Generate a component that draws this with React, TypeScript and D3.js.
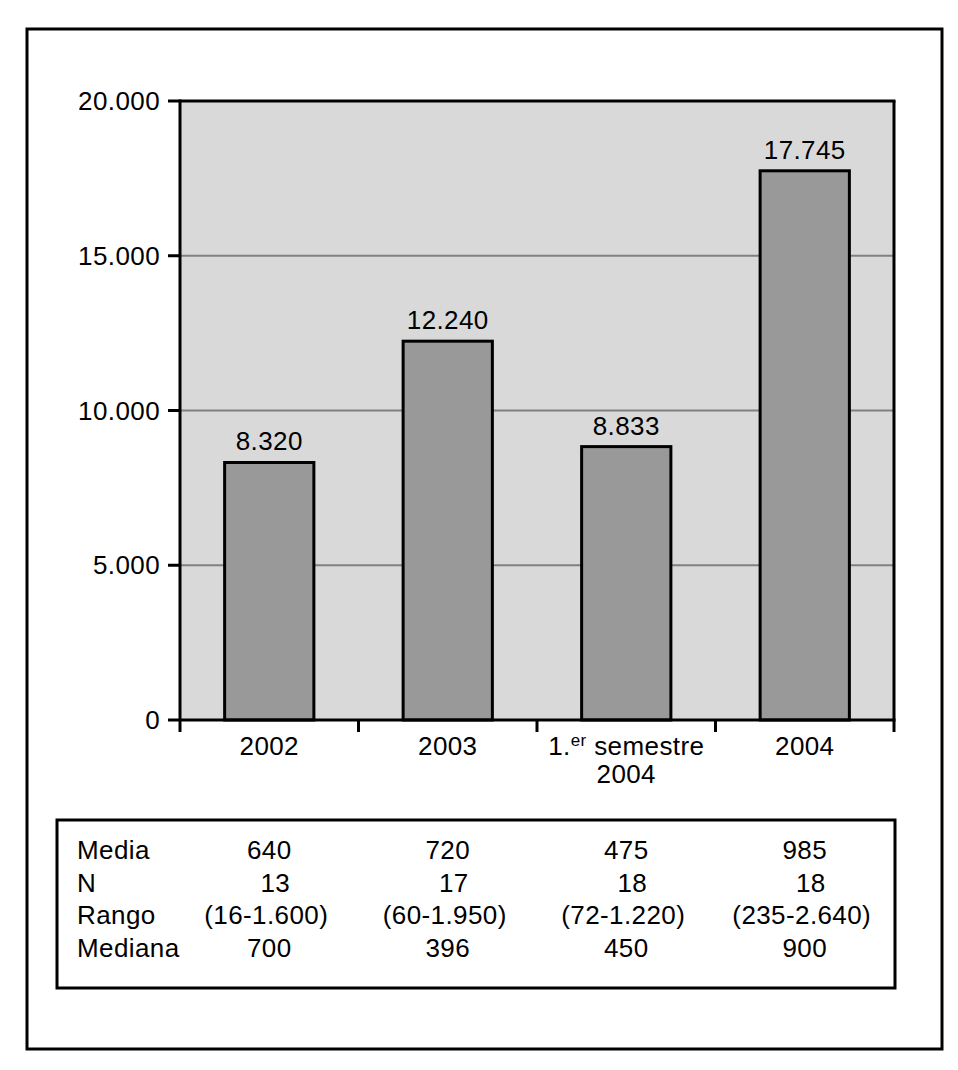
import React from "react";
import * as d3 from "d3";

const categories = ["2002", "2003", "1.er semestre 2004", "2004"];
const values = [8320, 12240, 8833, 17745];
const valueLabels = ["8.320", "12.240", "8.833", "17.745"];
const yTicks = [0, 5000, 10000, 15000, 20000];
const yTickLabels = ["0", "5.000", "10.000", "15.000", "20.000"];
const rowLabels = ["Media", "N", "Rango", "Mediana"];
const mediaRow = ["640", "720", "475", "985"];
const nRow = ["13", "17", "18", "18"];
const rangoRow = ["(16-1.600)", "(60-1.950)", "(72-1.220)", "(235-2.640)"];
const medianaRow = ["700", "396", "450", "900"];

const W = 958;
const H = 1070;
const FONT = "'Liberation Sans', Arial, Helvetica, sans-serif";

export default function App() {
  const left = 180, right = 894, top = 101, bottom = 720;
  const x = d3.scaleBand<string>().domain(categories).range([left, right]).paddingInner(0.5).paddingOuter(0.25);
  const xOuter = d3.scaleBand<string>().domain(categories).range([left, right]);
  const y = d3.scaleLinear().domain([0, 20000]).range([bottom, top]);
  const fs = 26;
  const ls = 0.4;
  const rows = [mediaRow, nRow, rangoRow, medianaRow];
  const rowY = d3.scaleLinear().domain([0, 3]).range([859, 957]);
  const rowDx = [0, 6, -3, 0];

  return (
    <svg width={W} height={H} style={{ position: "absolute", left: 0, top: 0, background: "#fff" }} fontFamily={FONT}>
      <rect x={27} y={29} width={915} height={1020} fill="none" stroke="#000" strokeWidth={3} />
      {/* plot background */}
      <rect x={left} y={top} width={right - left} height={bottom - top} fill="#d9d9d9" />
      {/* gridlines */}
      {yTicks.filter((t) => t > 0 && t < 20000).map((t) => (
        <line key={t} x1={left} x2={right} y1={y(t)} y2={y(t)} stroke="#808080" strokeWidth={2} />
      ))}
      {/* bars */}
      {categories.map((c, i) => (
        <rect key={c} x={x(c)!} y={y(values[i])} width={x.bandwidth()} height={bottom - y(values[i])}
          fill="#999999" stroke="#000" strokeWidth={3} />
      ))}
      {/* value labels */}
      {categories.map((c, i) => (
        <text key={c} x={x(c)! + x.bandwidth() / 2} y={y(values[i]) - 12} textAnchor="middle" fontSize={fs} letterSpacing={ls} fill="#000">
          {valueLabels[i]}
        </text>
      ))}
      {/* plot border top/right */}
      <line x1={left} x2={right + 1.5} y1={top} y2={top} stroke="#000" strokeWidth={3} />
      <line x1={right} x2={right} y1={top} y2={bottom} stroke="#000" strokeWidth={3} />
      {/* y axis */}
      <line x1={left} x2={left} y1={top - 1.5} y2={bottom + 12} stroke="#000" strokeWidth={3} />
      {yTicks.map((t, i) => (
        <g key={t}>
          <line x1={left - 12} x2={left} y1={y(t)} y2={y(t)} stroke="#000" strokeWidth={3} />
          <text x={left - 20} y={y(t) + 9} textAnchor="end" fontSize={fs} letterSpacing={ls} fill="#000">
            {yTickLabels[i]}
          </text>
        </g>
      ))}
      {/* x axis */}
      <line x1={left} x2={right + 1.5} y1={bottom} y2={bottom} stroke="#000" strokeWidth={3} />
      {categories.map((c, i) => (
        <line key={c} x1={xOuter(c)! + xOuter.bandwidth()} x2={xOuter(c)! + xOuter.bandwidth()} y1={bottom} y2={bottom + 12} stroke="#000" strokeWidth={3} />
      ))}
      {categories.map((c, i) => {
        const cx = xOuter(c)! + xOuter.bandwidth() / 2;
        if (c.startsWith("1.er")) {
          return (
            <g key={c}>
              <text x={cx} y={755} textAnchor="middle" fontSize={fs} letterSpacing={ls} fill="#000">
                1.<tspan fontSize={17} dy={-9}>er</tspan><tspan dy={9}> semestre</tspan>
              </text>
              <text x={cx} y={783} textAnchor="middle" fontSize={fs} letterSpacing={ls} fill="#000">2004</text>
            </g>
          );
        }
        return (
          <text key={c} x={cx} y={755} textAnchor="middle" fontSize={fs} letterSpacing={ls} fill="#000">{c}</text>
        );
      })}
      {/* table */}
      <rect x={57} y={820} width={838} height={168} fill="none" stroke="#000" strokeWidth={3} />
      {rowLabels.map((r, ri) => (
        <g key={r}>
          <text x={77} y={rowY(ri)} fontSize={fs} letterSpacing={ls} fill="#000">{r}</text>
          {categories.map((c, ci) => (
            <text key={c} x={xOuter(c)! + xOuter.bandwidth() / 2 + rowDx[ri]} y={rowY(ri)} textAnchor="middle" fontSize={fs} letterSpacing={ls} fill="#000">
              {rows[ri][ci]}
            </text>
          ))}
        </g>
      ))}
    </svg>
  );
}
